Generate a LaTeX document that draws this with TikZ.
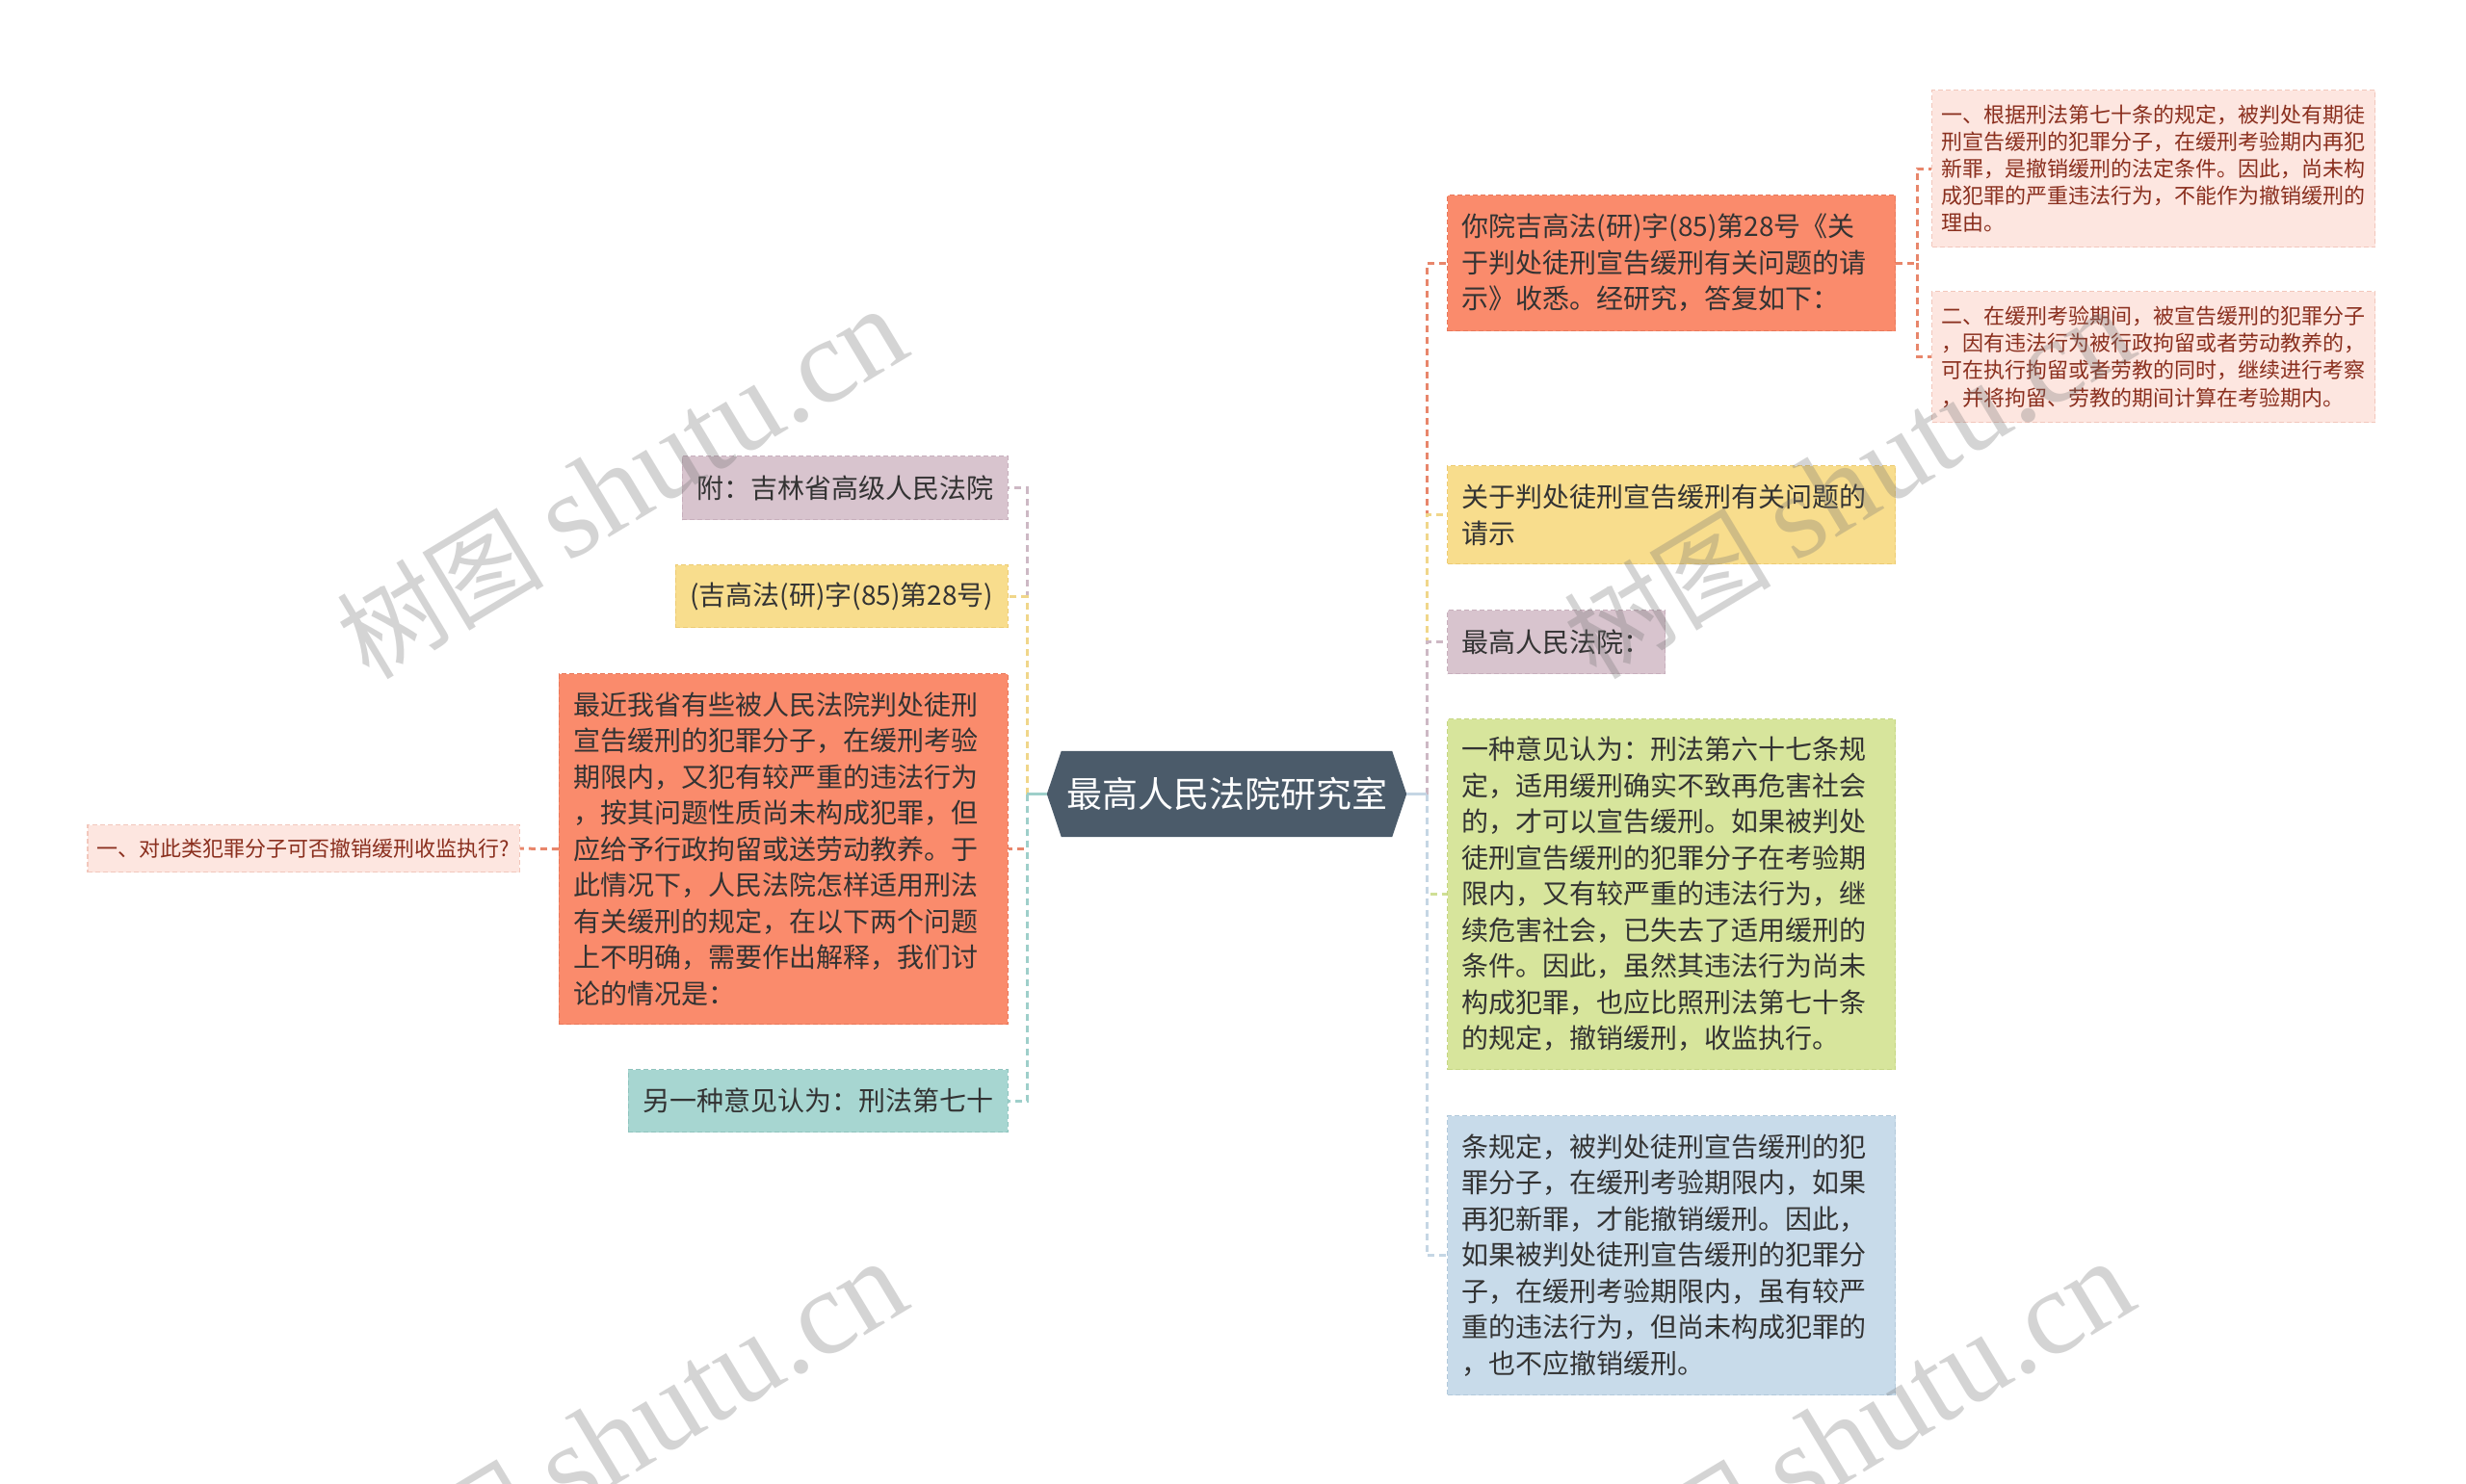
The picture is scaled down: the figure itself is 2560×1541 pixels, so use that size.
\documentclass[tikz,border=0pt]{standalone}
\usepackage{fontspec}
\newfontfamily\cjk{Noto Sans CJK SC}
\newfontfamily\wmlat{Liberation Serif}
\usetikzlibrary{backgrounds,calc}
\definecolor{txt}{HTML}{333333}
\definecolor{redtxt}{HTML}{8A2F1E}
\definecolor{rootF}{HTML}{4B5B6A}
\definecolor{salmonF}{HTML}{FA8B6C}
\definecolor{salmonD}{HTML}{E9785A}
\definecolor{salmonC}{HTML}{E8866B}
\definecolor{pinkF}{HTML}{FDE6E0}
\definecolor{pinkD}{HTML}{F2C7BC}
\definecolor{yellowF}{HTML}{F8DD8D}
\definecolor{yellowD}{HTML}{EDCB72}
\definecolor{yellowC}{HTML}{F0D68A}
\definecolor{mauveF}{HTML}{D8C4CE}
\definecolor{mauveD}{HTML}{C7AFBC}
\definecolor{mauveC}{HTML}{CDB8C4}
\definecolor{greenF}{HTML}{D7E59C}
\definecolor{greenD}{HTML}{C5D683}
\definecolor{greenC}{HTML}{CFDF95}
\definecolor{blueF}{HTML}{C8DBEA}
\definecolor{blueD}{HTML}{B2C9DB}
\definecolor{blueC}{HTML}{C5D6E4}
\definecolor{tealF}{HTML}{A7D6D1}
\definecolor{tealD}{HTML}{8FC4BE}
\definecolor{tealC}{HTML}{9ECFCA}
\newcommand{\wmtext}{{\fontsize{108}{120}\selectfont\cjk 树图 }{\fontsize{125}{135}\selectfont\wmlat shutu.cn}}
\begin{document}
\begin{tikzpicture}[x=1pt,y={(0pt,-1pt)},
  box/.style={anchor=north west, inner xsep=15pt, inner ysep=0pt, align=left,
    font=\cjk\fontsize{28}{37.5}\selectfont, text=txt, line width=1.2pt,
    dash pattern=on 5pt off 3pt},
  lbox/.style={box, anchor=north east},
  wide/.style={text width=435pt},
  small/.style={font=\cjk\fontsize{22}{28.2}\selectfont, text=redtxt, inner xsep=10pt},
  conn/.style={line width=3pt, dash pattern=on 7pt off 5pt},
  link/.style={line width=3pt},
  wm/.style={anchor=base west, rotate=31, text=black!55, text opacity=0.3, inner sep=0pt}
]
\useasboundingbox (0,0) rectangle (2560,1541);

% root
\node[minimum width=373pt, minimum height=89pt, inner sep=0pt, text=white,
  font=\cjk\fontsize{37}{44}\selectfont] (root) at (1273.5,824.5) {最高人民法院研究室};

% right side
\node[box, wide, fill=salmonF, draw=salmonD, minimum height=141pt] (R1) at (1502,202)
  {你院吉高法(研)字(85)第28号《关\\于判处徒刑宣告缓刑有关问题的请\\示》收悉。经研究，答复如下：};
\node[box, small, text width=440pt, fill=pinkF, draw=pinkD, minimum height=163pt] (R1a) at (2005,93)
  {一、根据刑法第七十条的规定，被判处有期徒\\刑宣告缓刑的犯罪分子，在缓刑考验期内再犯\\新罪，是撤销缓刑的法定条件。因此，尚未构\\成犯罪的严重违法行为，不能作为撤销缓刑的\\理由。};
\node[box, small, text width=440pt, fill=pinkF, draw=pinkD, minimum height=136pt] (R1b) at (2005,302)
  {二、在缓刑考验期间，被宣告缓刑的犯罪分子\\，因有违法行为被行政拘留或者劳动教养的，\\可在执行拘留或者劳教的同时，继续进行考察\\，并将拘留、劳教的期间计算在考验期内。};
\node[box, wide, fill=yellowF, draw=yellowD, minimum height=102pt] (R2) at (1502,483)
  {关于判处徒刑宣告缓刑有关问题的\\请示};
\node[box, fill=mauveF, draw=mauveD, minimum height=66pt] (R3) at (1502,633) {最高人民法院：};
\node[box, wide, fill=greenF, draw=greenD, minimum height=364pt] (R4) at (1502,746)
  {一种意见认为：刑法第六十七条规\\定，适用缓刑确实不致再危害社会\\的，才可以宣告缓刑。如果被判处\\徒刑宣告缓刑的犯罪分子在考验期\\限内，又有较严重的违法行为，继\\续危害社会，已失去了适用缓刑的\\条件。因此，虽然其违法行为尚未\\构成犯罪，也应比照刑法第七十条\\的规定，撤销缓刑，收监执行。};
\node[box, wide, fill=blueF, draw=blueD, minimum height=290pt] (R5) at (1502,1158)
  {条规定，被判处徒刑宣告缓刑的犯\\罪分子，在缓刑考验期限内，如果\\再犯新罪，才能撤销缓刑。因此，\\如果被判处徒刑宣告缓刑的犯罪分\\子，在缓刑考验期限内，虽有较严\\重的违法行为，但尚未构成犯罪的\\，也不应撤销缓刑。};

% left side
\node[lbox, fill=mauveF, draw=mauveD, minimum height=66pt] (L1) at (1047,473) {附：吉林省高级人民法院};
\node[lbox, fill=yellowF, draw=yellowD, minimum height=65pt] (L2) at (1047,586) {(吉高法(研)字(85)第28号)};
\node[lbox, text width=436pt, fill=salmonF, draw=salmonD, minimum height=364pt] (L3) at (1047,699)
  {最近我省有些被人民法院判处徒刑\\宣告缓刑的犯罪分子，在缓刑考验\\期限内，又犯有较严重的违法行为\\，按其问题性质尚未构成犯罪，但\\应给予行政拘留或送劳动教养。于\\此情况下，人民法院怎样适用刑法\\有关缓刑的规定，在以下两个问题\\上不明确，需要作出解释，我们讨\\论的情况是：};
\node[lbox, fill=tealF, draw=tealD, minimum height=65pt] (L4) at (1047,1110) {另一种意见认为：刑法第七十};
\node[lbox, small, fill=pinkF, draw=pinkD, minimum height=49pt] (L0) at (540,856) {一、对此类犯罪分子可否撤销缓刑收监执行?};

\begin{scope}[on background layer]
  \fill[white] (0,0) rectangle (2560,1541);
  \fill[rootF] (root.west) -- ([xshift=15pt]root.north west) -- ([xshift=-15pt]root.north east)
    -- (root.east) -- ([xshift=-15pt]root.south east) -- ([xshift=15pt]root.south west) -- cycle;
\end{scope}

% connectors
\coordinate (lsp) at (1066,824.5);
\coordinate (rsp) at (1481,824.5);
\draw[conn, mauveC] (lsp) |- (L1.east);
\draw[conn, yellowC] (lsp) |- (L2.east);
\draw[conn, salmonC] (lsp) |- (L3.east);
\draw[conn, tealC] (lsp) |- (L4.east);
\draw[link, tealC] (root.west) -- (lsp);
\draw[conn, salmonC] (L3.west) -- (L0.east);

\draw[conn, salmonC] (rsp) |- (R1.west);
\draw[conn, yellowC] (rsp) |- (R2.west);
\draw[conn, mauveC] (rsp) |- (R3.west);
\draw[conn, greenC] (rsp) |- (R4.west);
\draw[conn, blueC] (rsp) |- (R5.west);
\draw[link, blueC] (root.east) -- (rsp);

\coordinate (r1sp) at ($(R1.east)+(22,0)$);
\draw[conn, salmonC] (R1.east) -- (r1sp) |- (R1a.west);
\draw[conn, salmonC] (r1sp) |- (R1b.west);

% watermarks
\node[wm] (wm1) at (383,708) {\wmtext};
\node[wm] (wm2) at (1657,708) {\wmtext};
\node[wm] (wm3) at (383,1696) {\wmtext};
\node[wm] (wm4) at (1657,1696) {\wmtext};
\end{tikzpicture}
\end{document}
